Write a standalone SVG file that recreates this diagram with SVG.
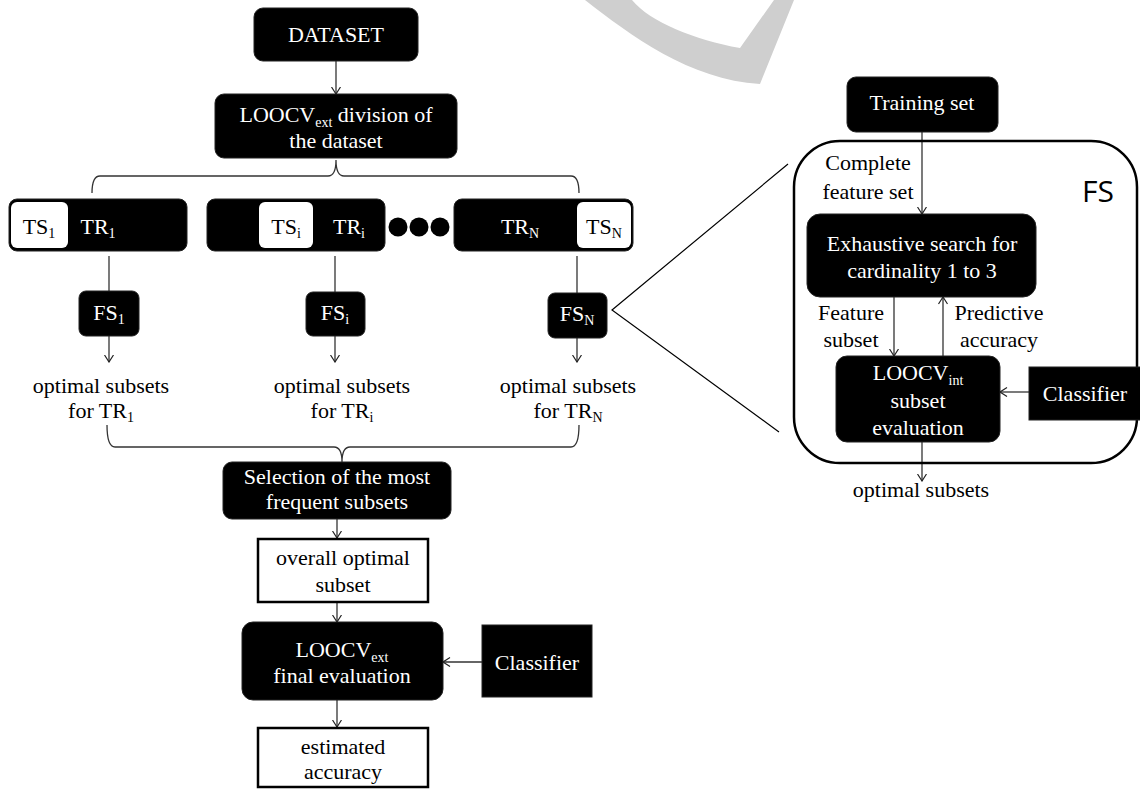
<svg xmlns="http://www.w3.org/2000/svg" width="1140" height="789" viewBox="0 0 1140 789" font-family="Liberation Serif, Times New Roman, DejaVu Serif, serif">
<style>
text{font-size:22px;text-anchor:middle}
.w{fill:#fff}
.k{fill:#000}
.blk{fill:#000;stroke:#222;stroke-width:1}
.wb{fill:#fff;stroke:#000;stroke-width:2.5}
.ln{fill:none;stroke:#333;stroke-width:1.3}
.th{fill:none;stroke:#000;stroke-width:1.2}
.sub{font-size:14px}
.big{font-family:"Open Sans","Liberation Sans",sans-serif;font-size:30px}
</style>
<defs>
<marker id="ah" viewBox="0 0 8 10" refX="7.5" refY="5" markerWidth="8" markerHeight="10" markerUnits="userSpaceOnUse" orient="auto">
<path d="M0.5,0.5 L7.5,5 L0.5,9.5" fill="none" stroke="#222" stroke-width="1.2"/>
</marker>
</defs>
<path d="M585 0 C630 35,690 80,760 84 L794 0 L774 0 L740 48 C695 40,650 22,632 0 Z" fill="#cfcfcf"/>
<g id="connectors">
<line class="ln" x1="336" y1="61" x2="336" y2="94" marker-end="url(#ah)"/>
<path class="ln" d="M92 193 Q92 176 100 176 L328 176 Q336 176 336 160 Q336 176 344 176 L571 176 Q579 176 579 193"/>
<line class="ln" x1="109" y1="256" x2="109" y2="291"/>
<line class="ln" x1="335" y1="256" x2="335" y2="292"/>
<line class="ln" x1="577" y1="256" x2="577" y2="293"/>
<line class="ln" x1="109" y1="336" x2="109" y2="362" marker-end="url(#ah)"/>
<line class="ln" x1="335" y1="336" x2="335" y2="362" marker-end="url(#ah)"/>
<line class="ln" x1="577" y1="338" x2="577" y2="362" marker-end="url(#ah)"/>
<path class="ln" d="M107 425 Q107 447 115 447 L334 447 Q342 447 342 462 Q342 447 350 447 L571 447 Q579 447 579 425"/>
<line class="ln" x1="337" y1="519" x2="337" y2="538" marker-end="url(#ah)"/>
<line class="ln" x1="337" y1="602" x2="337" y2="622" marker-end="url(#ah)"/>
<line class="ln" x1="482" y1="662" x2="443" y2="662" marker-end="url(#ah)"/>
<line class="ln" x1="337" y1="700" x2="337" y2="727" marker-end="url(#ah)"/>
<polyline class="th" points="788,164 612,310 779,432"/>
<line class="ln" x1="922" y1="132" x2="922" y2="214" marker-end="url(#ah)"/>
<line class="ln" x1="894" y1="297" x2="894" y2="356" marker-end="url(#ah)"/>
<line class="ln" x1="943" y1="356" x2="943" y2="297" marker-end="url(#ah)"/>
<line class="ln" x1="1029" y1="392" x2="1000" y2="392" marker-end="url(#ah)"/>
<line class="ln" x1="922" y1="442" x2="922" y2="481" marker-end="url(#ah)"/>
</g>
<g id="dataset"><rect class="blk" x="254" y="8" width="164" height="53" rx="9"/><text class="w" x="336" y="42">DATASET</text></g>
<g id="loocv-division"><rect class="blk" x="215" y="94" width="242" height="64" rx="9"/>
<text class="w" x="336" y="122">LOOCV<tspan class="sub" dy="5">ext</tspan><tspan dy="-5"> division of</tspan></text>
<text class="w" x="336" y="148">the dataset</text></g>
<g id="split-1"><rect class="blk" x="9" y="199" width="178" height="52" rx="8"/><rect fill="#fff" x="11" y="202" width="57" height="46" rx="6"/>
<text class="k" x="39" y="234">TS<tspan class="sub" dy="4">1</tspan></text>
<text class="w" x="98" y="234">TR<tspan class="sub" dy="4">1</tspan></text></g>
<g id="split-i"><rect class="blk" x="207" y="199" width="178" height="52" rx="8"/><rect fill="#fff" x="259" y="202" width="54" height="46" rx="6"/>
<text class="k" x="286" y="234">TS<tspan class="sub" dy="4">i</tspan></text>
<text class="w" x="349" y="234">TR<tspan class="sub" dy="4">i</tspan></text></g>
<g id="dots"><circle cx="398" cy="227" r="9.5"/><circle cx="419" cy="227" r="9.5"/><circle cx="440" cy="227" r="9.5"/></g>
<g id="split-N"><rect class="blk" x="454" y="199" width="179" height="52" rx="8"/><rect fill="#fff" x="577" y="202" width="54" height="46" rx="6"/>
<text class="w" x="520" y="234">TR<tspan class="sub" dy="4">N</tspan></text>
<text class="k" x="604" y="234">TS<tspan class="sub" dy="4">N</tspan></text></g>
<g id="fs-1"><rect class="blk" x="79" y="291" width="60" height="45" rx="7"/><text class="w" x="109" y="320">FS<tspan class="sub" dy="4">1</tspan></text></g>
<g id="fs-i"><rect class="blk" x="306" y="292" width="59" height="44" rx="7"/><text class="w" x="335" y="320">FS<tspan class="sub" dy="4">i</tspan></text></g>
<g id="fs-N"><rect class="blk" x="548" y="293" width="59" height="45" rx="7"/><text class="w" x="577" y="321">FS<tspan class="sub" dy="4">N</tspan></text></g>
<g id="opt-1"><text class="k" x="101" y="393">optimal subsets</text><text class="k" x="101" y="418">for TR<tspan class="sub" dy="4">1</tspan></text></g>
<g id="opt-i"><text class="k" x="342" y="393">optimal subsets</text><text class="k" x="342" y="418">for TR<tspan class="sub" dy="4">i</tspan></text></g>
<g id="opt-N"><text class="k" x="568" y="393">optimal subsets</text><text class="k" x="568" y="418">for TR<tspan class="sub" dy="4">N</tspan></text></g>
<g id="selection"><rect class="blk" x="223" y="462" width="228" height="57" rx="9"/>
<text class="w" x="337" y="484">Selection of the most</text><text class="w" x="337" y="509">frequent subsets</text></g>
<g id="overall"><rect class="wb" x="258" y="539" width="170" height="63"/>
<text class="k" x="343" y="565">overall optimal</text><text class="k" x="343" y="592">subset</text></g>
<g id="final-eval"><rect class="blk" x="242" y="622" width="201" height="78" rx="11"/>
<text class="w" x="342" y="657">LOOCV<tspan class="sub" dy="5">ext</tspan></text><text class="w" x="342" y="683">final evaluation</text></g>
<g id="classifier-1"><rect class="blk" x="482" y="625" width="110" height="72"/><text class="w" x="537" y="670">Classifier</text></g>
<g id="estimated"><rect class="wb" x="258" y="728" width="170" height="59"/>
<text class="k" x="343" y="754">estimated</text><text class="k" x="343" y="779">accuracy</text></g>
<g id="fs-detail"><rect fill="none" stroke="#000" stroke-width="2.5" x="794" y="141" width="343" height="322" rx="46"/>
<text class="big" x="1098" y="202">FS</text></g>
<g id="training"><rect class="blk" x="847" y="77" width="151" height="55" rx="9"/><text class="w" x="922" y="110">Training set</text></g>
<g id="complete-label"><text class="k" x="868" y="170">Complete</text><text class="k" x="868" y="199">feature set</text></g>
<g id="exhaustive"><rect class="blk" x="807" y="214" width="229" height="83" rx="13"/>
<text class="w" x="922" y="251">Exhaustive search for</text><text class="w" x="922" y="278">cardinality 1 to 3</text></g>
<g id="feature-label"><text class="k" x="851" y="320">Feature</text><text class="k" x="851" y="347">subset</text></g>
<g id="predictive-label"><text class="k" x="999" y="320">Predictive</text><text class="k" x="999" y="347">accuracy</text></g>
<g id="loocv-int"><rect class="blk" x="836" y="356" width="164" height="86" rx="11"/>
<text class="w" x="918" y="380">LOOCV<tspan class="sub" dy="5">int</tspan></text><text class="w" x="918" y="408">subset</text><text class="w" x="918" y="435">evaluation</text></g>
<g id="classifier-2"><rect class="blk" x="1029" y="367" width="115" height="53"/><text class="w" x="1085" y="401">Classifier</text></g>
<g id="opt-out"><text class="k" x="921" y="497">optimal subsets</text></g>
</svg>
